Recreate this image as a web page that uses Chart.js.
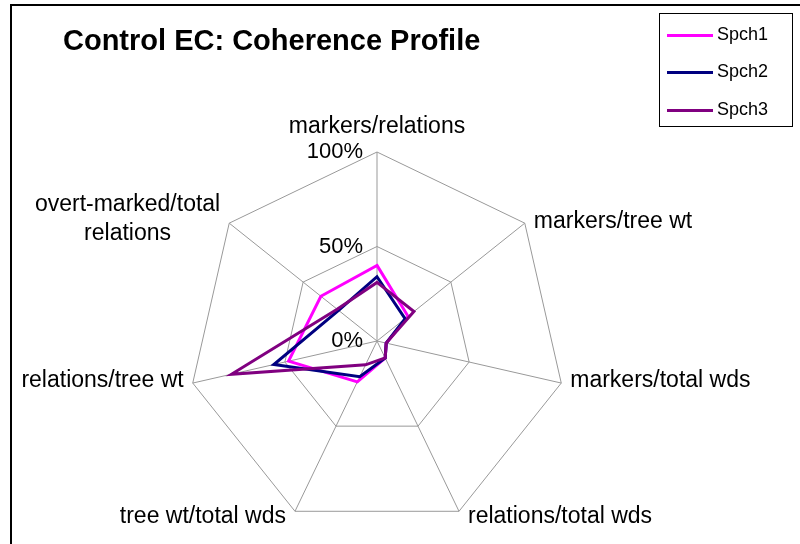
<!DOCTYPE html>
<html>
<head>
<meta charset="utf-8">
<title>Control EC: Coherence Profile</title>
<script src="https://cdn.jsdelivr.net/npm/chart.js@4.4.0/dist/chart.umd.min.js"></script>
<style>
  html, body { margin: 0; padding: 0; background: #fff; }
  #wrap { position: relative; width: 800px; height: 544px; overflow: hidden; }
  #frame { position: absolute; left: 10px; top: 4px; width: 1000px; height: 1000px; border: 2px solid #000; }
  canvas { position: absolute; left: 0; top: 0; }
</style>
</head>
<body>
<div id="wrap">
  <div id="frame"></div>
  <canvas id="coherence" width="800" height="544"></canvas>
</div>
<script>
var chartTitle = "Control EC: Coherence Profile";
var measures = [
  "markers/relations",
  "markers/tree wt",
  "markers/total wds",
  "relations/total wds",
  "tree wt/total wds",
  "relations/tree wt",
  ["overt-marked/total", "relations"]
];
var seriesNames = ["Spch1", "Spch2", "Spch3"];
var seriesColors = ["#ff00ff", "#000080", "#800080"];
var spch1 = [40, 21, 5, 10, 24, 48, 38];
var spch2 = [34, 19, 5, 10, 21, 56, 26];
var spch3 = [31, 25, 5, 10, 14, 79, 27];
var tickValues = [0, 50, 100];

var FONT = '"Liberation Sans", Arial, sans-serif';

// draws the title, the boxed legend and the axis/value labels the way Excel lays them out
var excelLook = {
  id: 'excelLook',
  afterDraw: function(chart) {
    var ctx = chart.ctx;
    var r = chart.scales.r;
    ctx.save();
    ctx.fillStyle = '#000';

    ctx.font = 'bold 29px ' + FONT;
    ctx.textAlign = 'left';
    ctx.textBaseline = 'alphabetic';
    ctx.fillText(chartTitle, 63, 50);

    // percent labels sit just left of the vertical axis
    ctx.font = '22px ' + FONT;
    ctx.textAlign = 'right';
    ctx.textBaseline = 'middle';
    tickValues.forEach(function(v) {
      var d = r.getDistanceFromCenterForValue(v);
      ctx.fillText(v + '%', r.xCenter - 14, r.yCenter - d);
    });

    // category labels around the web
    ctx.font = '23px ' + FONT;
    measures.forEach(function(label, i) {
      var v = r.getPointPosition(i, r.drawingArea);
      var dx = v.x - r.xCenter;
      var dy = v.y - r.yCenter;
      var lines = Array.isArray(label) ? label : [label];
      var lh = 29;
      var x, y;
      if (Math.abs(dx) < 1) {
        x = v.x;
        y = v.y - 25;
      } else {
        x = dx > 0 ? v.x + 9 : v.x - 9;
        y = v.y - 2 + (dy > r.drawingArea * 0.5 ? 7 : 0);
        if (lines.length > 1) y -= 2;
      }
      var maxW = 0;
      lines.forEach(function(t) { maxW = Math.max(maxW, ctx.measureText(t).width); });
      ctx.textAlign = 'center';
      lines.forEach(function(t, k) {
        var ly = y + (k - (lines.length - 1) / 2) * lh;
        if (Math.abs(dx) < 1) {
          ctx.fillText(t, x, ly);
        } else {
          // multi-line labels are centred within their block
          var cx = dx > 0 ? x + maxW / 2 : x - maxW / 2;
          ctx.fillText(t, cx, ly);
        }
      });
    });

    // legend box
    var lx = 659, ly0 = 13, lw = 133, lhgt = 113;
    ctx.strokeStyle = '#000';
    ctx.lineWidth = 1;
    ctx.strokeRect(lx + 0.5, ly0 + 0.5, lw, lhgt);
    ctx.font = '18px ' + FONT;
    ctx.textAlign = 'left';
    ctx.textBaseline = 'middle';
    chart.data.datasets.forEach(function(ds, i) {
      var yy = 35 + i * 37.3;
      ctx.strokeStyle = ds.borderColor;
      ctx.lineWidth = 3;
      ctx.beginPath();
      ctx.moveTo(667, Math.round(yy) + 0.5);
      ctx.lineTo(713, Math.round(yy) + 0.5);
      ctx.stroke();
      ctx.fillStyle = '#000';
      ctx.fillText(ds.label, 717, yy);
    });
    ctx.restore();
  }
};

var series = [spch1, spch2, spch3];
var datasets = series.map(function(vals, i) {
  return {
    label: seriesNames[i],
    data: vals,
    borderColor: seriesColors[i],
    backgroundColor: 'transparent',
    borderWidth: 3,
    fill: false,
    pointRadius: 0,
    order: 2 - i
  };
});

var coherenceChart = new Chart(document.getElementById('coherence'), {
  type: 'radar',
  data: {
    labels: measures,
    datasets: datasets
  },
  options: {
    responsive: false,
    animation: false,
    layout: {
      padding: { left: 188, right: 234, top: 152, bottom: 14 }
    },
    plugins: {
      legend: { display: false },
      title: { display: false },
      tooltip: { enabled: false }
    },
    elements: {
      line: { tension: 0, borderJoinStyle: 'miter' }
    },
    scales: {
      r: {
        min: 0,
        max: 100,
        ticks: { display: false, stepSize: 50 },
        grid: { color: '#999999', lineWidth: 1 },
        angleLines: { color: '#999999', lineWidth: 1 },
        pointLabels: { display: false }
      }
    }
  },
  plugins: [excelLook]
});
</script>
</body>
</html>
